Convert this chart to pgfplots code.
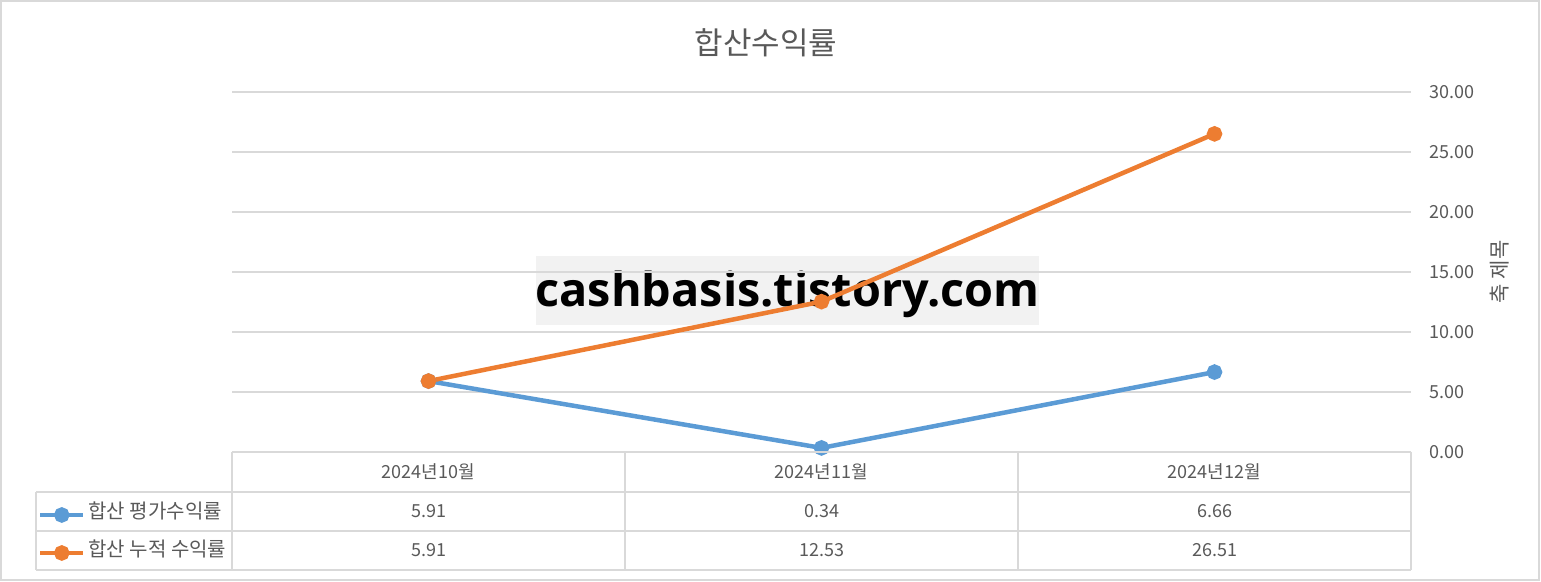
\documentclass[border=0pt]{standalone}
\usepackage{fontspec}
\setmainfont{Noto Sans CJK KR}
\newfontfamily\wmfont{Open Sans}
\usepackage{pgfplots}
\pgfplotsset{compat=1.18}
\definecolor{cblue}{HTML}{5B9BD5}
\definecolor{corange}{HTML}{ED7D31}
\definecolor{cgrid}{HTML}{D9D9D9}
\definecolor{ctext}{HTML}{595959}
\definecolor{cwm}{HTML}{F2F2F2}
\begin{document}
\begin{tikzpicture}
\useasboundingbox (0pt,0pt) rectangle (770.5pt,291pt);
% watermark
\fill[cwm] (268pt,128.5pt) rectangle (519.5pt,163pt);
\node[font=\wmfont\bfseries\fontsize{23.4}{28}\selectfont, anchor=base, inner sep=0pt] at (393.75pt,137.75pt) {cashbasis.tistory.com};
\begin{axis}[
  at={(116pt,65pt)}, anchor=south west,
  scale only axis, width=589.5pt, height=180pt,
  xmin=-0.5, xmax=2.5, ymin=0, ymax=30,
  xtick={0,1,2}, xticklabels={2024년10월,2024년11월,2024년12월},
  ytick={0,5,10,15,20,25,30},
  yticklabel pos=right,
  ymajorgrids, grid style={cgrid, line width=0.75pt},
  axis line style={draw=none},
  major tick length=0pt,
  tick label style={font=\fontsize{9}{11}\selectfont, text=ctext},
  xticklabel style={anchor=center, yshift=-10pt},
  yticklabel style={anchor=west, inner xsep=0pt, xshift=9pt,
    /pgf/number format/fixed, /pgf/number format/fixed zerofill, /pgf/number format/precision=2},
  legend style={at={(axis description cs:-0.1645,-0.150)}, anchor=north west,
    draw=none, fill=none, inner sep=0pt, outer sep=0pt, row sep=10pt, column sep=1.5pt,
    font=\fontsize{10}{12}\selectfont, text=ctext,
    nodes={inner sep=0pt, text height=6.5pt, text depth=2.5pt}},
  legend cell align=left,
  legend image code/.code={\draw[mark repeat=2,mark phase=2,#1] plot coordinates {(0pt,0pt) (10.75pt,0pt) (21.5pt,0pt)};},
  /pgf/number format/assume math mode=true,
]
\addplot[cblue, line width=2.25pt, mark=*, mark size=2.75pt, mark options={solid}] coordinates {(0,5.91) (1,0.34) (2,6.66)};
\addlegendentry{합산 평가수익률}
\addplot[corange, line width=2.25pt, mark=*, mark size=2.75pt, mark options={solid}] coordinates {(0,5.91) (1,12.53) (2,26.51)};
\addlegendentry{합산 누적 수익률}
\end{axis}
% data table
\begin{scope}[cgrid, line width=1pt]
\draw (116pt,65pt) -- (705.5pt,65pt);
\draw (18pt,45pt) -- (705.5pt,45pt);
\draw (18pt,25.5pt) -- (705.5pt,25.5pt);
\draw (18pt,6pt) -- (705.5pt,6pt);
\draw (116pt,65pt) -- (116pt,6pt);
\draw (312.5pt,65pt) -- (312.5pt,6pt);
\draw (509pt,65pt) -- (509pt,6pt);
\draw (705.5pt,65pt) -- (705.5pt,6pt);
\draw (18pt,45pt) -- (18pt,6pt);
\end{scope}
\begin{scope}[every node/.style={font=\fontsize{9}{11}\selectfont, text=ctext, anchor=base, inner sep=0pt}]
\node at (214.25pt,32.25pt) {5.91};
\node at (410.75pt,32.25pt) {0.34};
\node at (607.25pt,32.25pt) {6.66};
\node at (214.25pt,12.5pt) {5.91};
\node at (410.75pt,12.5pt) {12.53};
\node at (607.25pt,12.5pt) {26.51};
\end{scope}
% title & axis title
\node[font=\fontsize{15.5}{18}\selectfont, text=ctext] at (383pt,269.5pt) {합산수익률};
\node[font=\fontsize{10.5}{12}\selectfont, text=ctext, rotate=90] at (750pt,155pt) {축 제목};
% outer border
\draw[cgrid, line width=1pt] (0.5pt,1pt) rectangle (769.5pt,290.5pt);
\end{tikzpicture}
\end{document}
